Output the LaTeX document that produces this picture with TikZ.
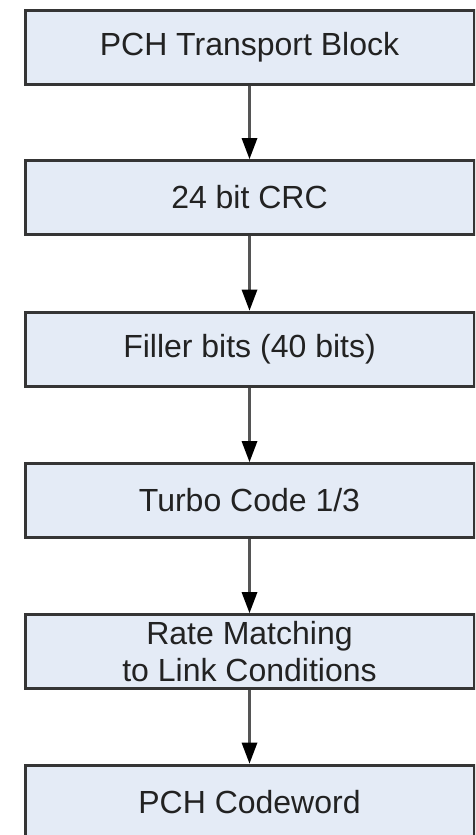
\documentclass[tikz,border=0pt]{standalone}
\usepackage{fontspec}
\setmainfont{Liberation Sans}
\usetikzlibrary{arrows.meta}
\definecolor{boxfill}{HTML}{E4EBF6}
\definecolor{boxline}{HTML}{353535}
\definecolor{arrowline}{HTML}{555555}
\definecolor{txt}{HTML}{222222}
\begin{document}
\begin{tikzpicture}[x=1pt,y=-1pt,
  stage/.style={draw=boxline, fill=boxfill, line width=3pt,
    minimum width=449pt, minimum height=74pt, inner sep=0pt, text=txt,
    font=\fontsize{32}{37}\selectfont, align=center},
  flow/.style={draw=arrowline, line width=2.2pt,
    -{Triangle[length=21pt,width=16pt,fill=black,line width=0pt]}}]
\useasboundingbox (0,0) rectangle (475,835);
\clip (0,0) rectangle (475,835);
\node[stage] (b1) at (249.5,47) {PCH Transport Block};
\node[stage] (b2) at (249.5,197.5) {24 bit CRC};
\node[stage] (b3) at (249.5,349) {Filler bits (40 bits)};
\node[stage] (b4) at (249.5,500.5) {Turbo Code 1/3};
\node[stage] (b5) at (249.5,651.5) {Rate Matching\\to Link Conditions};
\node[stage] (b6) at (249.5,802) {PCH Codeword};
\draw[flow] (b1.south) -- (b2.north);
\draw[flow] (b2.south) -- (b3.north);
\draw[flow] (b3.south) -- (b4.north);
\draw[flow] (b4.south) -- (b5.north);
\draw[flow] (b5.south) -- (b6.north);
\end{tikzpicture}
\end{document}
